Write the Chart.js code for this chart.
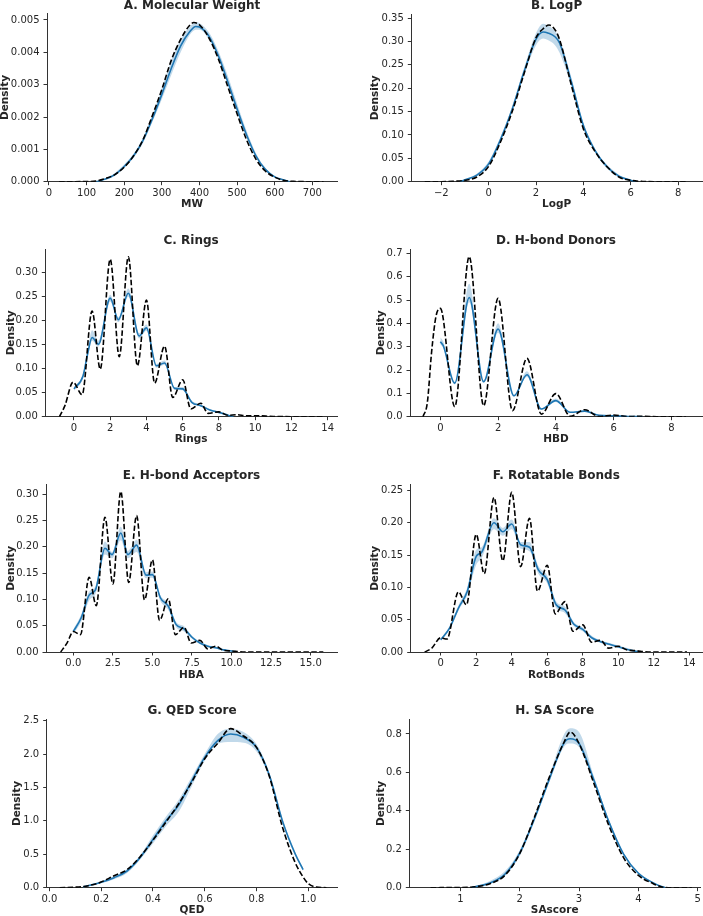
<!DOCTYPE html>
<html>
<head>
<meta charset="utf-8">
<script src="https://cdn.jsdelivr.net/npm/chart.js@4.4.1/dist/chart.umd.min.js"></script>
<style>
   body { margin: 0; background: #fff; }
   #fig { position: relative; width: 703px; height: 916px; }
   #fig canvas { position: absolute; }
</style>
</head>
<body>
<div id="fig"></div>
<script>
// DATA: ref = dashed black [x, density], gen = blue [x, density, bandLow, bandHigh]

// A. Molecular Weight
const refMW = [[27,0],[100,0.000002],[125,0.00002],[150,0.0001],[175,0.00022],[200,0.00045],[225,0.0008],[250,0.0013],[275,0.00205],[300,0.00285],[325,0.00375],[350,0.0044],[375,0.00485],[385,0.00492],[400,0.00485],[425,0.00445],[450,0.0038],[475,0.00295],[500,0.0021],[525,0.0013],[550,0.0007],[575,0.00033],[600,0.00014],[625,0.00004],[650,0.00001],[700,0],[730,0]];
const genMW = [[125,0,0,0],[150,0.00008,0.00006,0.0001],[175,0.00022,0.00018,0.00027],[200,0.00047,0.00042,0.00053],[225,0.0008,0.00074,0.00087],[250,0.00128,0.0012,0.00137],[275,0.00195,0.00185,0.00207],[300,0.0027,0.00255,0.0029],[325,0.0035,0.0033,0.00375],[350,0.0042,0.004,0.0044],[375,0.00465,0.00455,0.0048],[390,0.0048,0.0047,0.00492],[400,0.00478,0.0047,0.0049],[425,0.0045,0.0044,0.00462],[450,0.0039,0.0038,0.00405],[475,0.0031,0.003,0.00328],[500,0.00225,0.00215,0.00242],[525,0.00145,0.00138,0.00158],[550,0.0008,0.00076,0.00088],[575,0.00038,0.00035,0.00043],[600,0.00015,0.00013,0.00018],[625,0.00005,0.00004,0.00006],[640,0,0,0]];

// B. LogP
const refLogP = [[-2.7,0],[-2,0],[-1.5,0.001],[-1,0.003],[-0.5,0.01],[0,0.033],[0.5,0.085],[1,0.151],[1.5,0.232],[2,0.308],[2.3,0.327],[2.55,0.335],[2.8,0.325],[3,0.303],[3.5,0.205],[4,0.113],[4.5,0.064],[5,0.032],[5.5,0.01],[6,0.003],[6.5,0.0005],[7,0],[8.4,0]];
const genLogP = [[-1.2,0,0,0],[-1,0.004,0.003,0.005],[-0.5,0.014,0.011,0.017],[0,0.038,0.033,0.043],[0.5,0.09,0.084,0.096],[1,0.156,0.15,0.162],[1.5,0.236,0.228,0.244],[2,0.305,0.292,0.318],[2.3,0.32,0.306,0.338],[2.5,0.318,0.303,0.334],[2.8,0.31,0.292,0.322],[3,0.296,0.275,0.305],[3.5,0.212,0.203,0.222],[4,0.12,0.114,0.126],[4.5,0.066,0.062,0.07],[5,0.032,0.028,0.036],[5.5,0.012,0.009,0.015],[6,0.003,0.002,0.004],[6.2,0,0,0]];

// C. Rings
const refRings = [[-0.8,0],[-0.5,0.023],[-0.05,0.072],[0.45,0.046],[1,0.22],[1.45,0.099],[2,0.328],[2.5,0.125],[3,0.333],[3.5,0.106],[4,0.243],[4.45,0.07],[5,0.147],[5.45,0.04],[6,0.077],[6.45,0.016],[7,0.028],[7.4,0.007],[8,0.01],[8.5,0.003],[9,0.004],[9.5,0.002],[10,0.002],[11,0.0005],[12,0],[13.85,0]];
const genRings = [[0,0.058,0.054,0.062],[0.5,0.085,0.08,0.09],[0.75,0.13,0.124,0.138],[1,0.165,0.158,0.18],[1.35,0.151,0.146,0.158],[2,0.247,0.24,0.254],[2.45,0.202,0.197,0.207],[3,0.257,0.25,0.267],[3.6,0.168,0.163,0.174],[4,0.185,0.179,0.192],[4.55,0.106,0.102,0.11],[5,0.112,0.108,0.117],[5.55,0.059,0.056,0.062],[6,0.058,0.055,0.062],[6.5,0.03,0.028,0.033],[7,0.023,0.021,0.026],[7.5,0.014,0.012,0.016],[8,0.009,0.007,0.011],[8.5,0.003,0.002,0.005],[8.8,0,0,0]];

// D. H-bond Donors
const refHBD = [[-0.6,0],[-0.45,0.06],[-0.3,0.28],[-0.15,0.43],[0,0.464],[0.5,0.043],[1,0.686],[1.5,0.047],[2,0.507],[2.5,0.026],[3,0.25],[3.5,0.011],[4,0.099],[4.5,0.002],[5,0.03],[5.5,0.001],[6,0.007],[6.5,0.001],[7,0.0015],[7.5,0],[8.5,0]];
const genHBD = [[0,0.321,0.31,0.34],[0.1,0.305,0.295,0.322],[0.5,0.144,0.138,0.15],[1,0.511,0.49,0.57],[1.5,0.15,0.145,0.156],[2,0.376,0.36,0.4],[2.55,0.09,0.086,0.094],[3,0.18,0.17,0.195],[3.5,0.033,0.03,0.036],[4,0.069,0.063,0.078],[4.5,0.019,0.017,0.021],[5,0.024,0.021,0.028],[5.5,0.006,0.005,0.008],[6,0.004,0.003,0.006],[6.5,0.001,0.001,0.002],[7,0,0,0]];

// E. H-bond Acceptors
const refHBA = [[-0.8,0],[-0.4,0.017],[0,0.039],[0.45,0.033],[1,0.142],[1.45,0.088],[2,0.256],[2.5,0.129],[3,0.305],[3.5,0.132],[4,0.259],[4.5,0.099],[5,0.175],[5.45,0.06],[6,0.101],[6.45,0.033],[7,0.047],[7.45,0.017],[8,0.022],[8.5,0.006],[9,0.011],[9.5,0.003],[10,0.002],[10.5,0.0005],[11,0],[15.8,0]];
const genHBA = [[0,0.039,0.034,0.043],[0.5,0.065,0.058,0.071],[1,0.108,0.098,0.115],[1.4,0.118,0.11,0.125],[2,0.197,0.185,0.21],[2.45,0.185,0.178,0.19],[3,0.226,0.212,0.238],[3.45,0.185,0.178,0.192],[4,0.203,0.19,0.213],[4.6,0.146,0.14,0.152],[5,0.147,0.141,0.153],[5.5,0.103,0.097,0.108],[6,0.087,0.08,0.093],[6.5,0.052,0.047,0.057],[7,0.044,0.039,0.049],[7.5,0.028,0.025,0.031],[8,0.017,0.015,0.02],[8.5,0.011,0.009,0.013],[9,0.008,0.006,0.01],[9.5,0.004,0.003,0.005],[10,0.002,0.001,0.003],[10.3,0,0,0]];

// F. Rotatable Bonds
const refRot = [[-0.9,0],[-0.5,0.006],[0,0.022],[0.35,0.02],[1,0.093],[1.45,0.073],[2,0.182],[2.45,0.121],[3,0.239],[3.5,0.141],[4,0.247],[4.5,0.132],[5,0.207],[5.45,0.094],[6,0.134],[6.45,0.059],[7,0.078],[7.45,0.032],[8,0.042],[8.5,0.015],[9,0.018],[9.45,0.006],[10,0.009],[10.5,0.003],[11,0.002],[11.5,0.0005],[12,0],[13.87,0]];
const genRot = [[0,0.019,0.017,0.021],[0.5,0.037,0.034,0.04],[1,0.068,0.064,0.072],[1.5,0.094,0.088,0.1],[2,0.148,0.135,0.158],[2.3,0.154,0.145,0.162],[3,0.2,0.19,0.207],[3.5,0.186,0.18,0.192],[4,0.198,0.19,0.205],[4.5,0.166,0.16,0.17],[5,0.162,0.156,0.17],[5.5,0.127,0.121,0.133],[6,0.112,0.106,0.118],[6.5,0.073,0.068,0.078],[7,0.065,0.06,0.07],[7.5,0.043,0.04,0.046],[8,0.035,0.032,0.038],[8.5,0.022,0.02,0.025],[9,0.016,0.014,0.018],[9.5,0.012,0.01,0.014],[10,0.008,0.006,0.01],[10.5,0.004,0.003,0.006],[11,0.001,0.001,0.002],[11.2,0,0,0]];

// G. QED Score
const refQED = [[0.04,0],[0.1,0.008],[0.15,0.03],[0.2,0.085],[0.25,0.18],[0.3,0.27],[0.35,0.46],[0.4,0.71],[0.45,0.98],[0.5,1.26],[0.55,1.58],[0.6,1.93],[0.65,2.16],[0.7,2.38],[0.75,2.27],[0.8,2.1],[0.85,1.66],[0.9,0.91],[0.95,0.37],[0.98,0.16],[1.0,0.06],[1.03,0.01],[1.07,0]];
const genQED = [[0.13,0.01,0.005,0.015],[0.2,0.08,0.065,0.095],[0.25,0.15,0.125,0.175],[0.3,0.25,0.22,0.28],[0.35,0.45,0.42,0.48],[0.4,0.72,0.66,0.78],[0.45,1.0,0.92,1.06],[0.5,1.24,1.14,1.32],[0.55,1.6,1.52,1.66],[0.6,1.95,1.9,2.0],[0.65,2.2,2.15,2.3],[0.7,2.3,2.18,2.38],[0.75,2.25,2.17,2.33],[0.8,2.1,2.04,2.15],[0.85,1.68,1.64,1.72],[0.9,1.0,0.96,1.04],[0.95,0.5,0.47,0.53],[0.98,0.27,0.25,0.29]];

// H. SA Score
const refSA = [[0.5,0],[1,0.001],[1.25,0.005],[1.5,0.021],[1.75,0.064],[2,0.177],[2.25,0.368],[2.5,0.576],[2.75,0.759],[2.85,0.81],[3,0.75],[3.25,0.542],[3.5,0.325],[3.75,0.156],[4,0.064],[4.25,0.021],[4.4,0.003],[4.5,0],[4.9,0]];
const genSA = [[1.2,0.002,0.001,0.003],[1.5,0.025,0.02,0.035],[1.75,0.07,0.06,0.085],[2,0.18,0.165,0.195],[2.25,0.36,0.345,0.375],[2.5,0.565,0.55,0.585],[2.75,0.755,0.735,0.8],[2.85,0.775,0.75,0.83],[3,0.75,0.73,0.81],[3.25,0.56,0.545,0.58],[3.5,0.345,0.335,0.355],[3.75,0.175,0.168,0.182],[4,0.075,0.07,0.08],[4.25,0.025,0.022,0.028],[4.35,0.01,0.008,0.012],[4.45,0,0,0]];

// TICKS
const xTicksMW = [0,100,200,300,400,500,600,700];
const yTicksMW = [0,0.001,0.002,0.003,0.004,0.005];
const xTicksLogP = [-2,0,2,4,6,8];
const yTicksLogP = [0,0.05,0.1,0.15,0.2,0.25,0.3,0.35];
const xTicksRings = [0,2,4,6,8,10,12,14];
const yTicksRings = [0,0.05,0.1,0.15,0.2,0.25,0.3];
const xTicksHBD = [0,2,4,6,8];
const yTicksHBD = [0,0.1,0.2,0.3,0.4,0.5,0.6,0.7];
const xTicksHBA = [0,2.5,5,7.5,10,12.5,15];
const yTicksHBA = [0,0.05,0.1,0.15,0.2,0.25,0.3];
const xTicksRot = [0,2,4,6,8,10,12,14];
const yTicksRot = [0,0.05,0.1,0.15,0.2,0.25];
const xTicksQED = [0,0.2,0.4,0.6,0.8,1.0];
const yTicksQED = [0,0.5,1,1.5,2,2.5];
const xTicksSA = [1,2,3,4,5];
const yTicksSA = [0,0.2,0.4,0.6,0.8];

const BLUE = "#1f77b4";
const BAND = "rgba(31, 119, 180, 0.28)";
const INK = "#262626";

Chart.defaults.font.family = "'DejaVu Sans', sans-serif";
Chart.defaults.color = INK;
Chart.defaults.animation = false;

// panel layout: cell = canvas box, area = plot box (page px)
const panels = [
   { title: "A. Molecular Weight", xLabel: "MW", ref: refMW, gen: genMW, xTicks: xTicksMW, yTicks: yTicksMW, xDec: 0, yDec: 3,
     xRange: [-5.3, 765.6], yMax: 0.005206, cell: [0, 0, 352, 229], area: [47, 13.3, 337, 181.7], tTop: 0, xPad: 19.75, yPad: 0.25 },
   { title: "B. LogP", xLabel: "LogP", ref: refLogP, gen: genLogP, xTicks: xTicksLogP, yTicks: yTicksLogP, xDec: 0, yDec: 2,
     xRange: [-3.268, 9.01], yMax: 0.3586, cell: [352, 0, 351, 229], area: [411.3, 14, 702, 181.7], tTop: 0, xPad: 19.75, yPad: 18 },
   { title: "C. Rings", xLabel: "Rings", ref: refRings, gen: genRings, xTicks: xTicksRings, yTicks: yTicksRings, xDec: 0, yDec: 2,
     xRange: [-1.582, 14.515], yMax: 0.3493, cell: [0, 229, 352, 229], area: [45.3, 249, 337, 416.7], tTop: 5.7, xPad: 13, yPad: 5.75 },
   { title: "D. H-bond Donors", xLabel: "HBD", ref: refHBD, gen: genHBD, xTicks: xTicksHBD, yTicks: yTicksHBD, xDec: 0, yDec: 1,
     xRange: [-1.05, 9.062], yMax: 0.7186, cell: [352, 229, 351, 229], area: [410, 249, 702, 416.7], tTop: 5.7, xPad: 13, yPad: 24.4 },
   { title: "E. H-bond Acceptors", xLabel: "HBA", ref: refHBA, gen: genHBA, xTicks: xTicksHBA, yTicks: yTicksHBA, xDec: 1, yDec: 2,
     xRange: [-1.727, 16.665], yMax: 0.3177, cell: [0, 458, 352, 229], area: [46, 484.7, 337, 652], tTop: 12.3, xPad: 6.75, yPad: 6 },
   { title: "F. Rotatable Bonds", xLabel: "RotBonds", ref: refRot, gen: genRot, xTicks: xTicksRot, yTicks: yTicksRot, xDec: 0, yDec: 2,
     xRange: [-1.689, 14.713], yMax: 0.2588, cell: [352, 458, 351, 229], area: [410.7, 484.7, 702, 652], tTop: 12.3, xPad: 6.75, yPad: 17.75 },
   { title: "G. QED Score", xLabel: "QED", ref: refQED, gen: genQED, xTicks: xTicksQED, yTicks: yTicksQED, xDec: 1, yDec: 1,
     xRange: [-0.0103, 1.112], yMax: 2.52, cell: [0, 687, 352, 229], area: [46.7, 719.3, 337.3, 887.7], tTop: 18.3, xPad: 0, yPad: 11.75 },
   { title: "H. SA Score", xLabel: "SAscore", ref: refSA, gen: genSA, xTicks: xTicksSA, yTicks: yTicksSA, xDec: 0, yDec: 1,
     xRange: [0.1408, 5.039], yMax: 0.876, cell: [352, 687, 351, 229], area: [409.3, 719.3, 702, 887.7], tTop: 18.3, xPad: 0, yPad: 24.4 },
];

function fmt(dec) {
   return (v) => Number(v).toFixed(dec).replace("-", "\u2212");
}

function axisStyle() {
   return {
      grid: { display: true, drawOnChartArea: false, drawTicks: true, tickLength: 3.5, tickColor: "#333", tickWidth: 1 },
      border: { display: true, color: "#333", width: 1 },
   };
}

function makePanel(p) {
   const [cx, cy, cw, ch] = p.cell;
   const [al, at, ar, ab] = p.area;

   const cv = document.createElement("canvas");
   cv.width = cw;
   cv.height = ch;
   cv.style.left = cx + "px";
   cv.style.top = cy + "px";
   document.getElementById("fig").appendChild(cv);

   const line = { pointRadius: 0, cubicInterpolationMode: "monotone" };

   new Chart(cv, {
      type: "line",
      data: {
         datasets: [
            { ...line, data: p.ref.map((d) => ({ x: d[0], y: d[1] })), borderColor: "#000", borderWidth: 1.6, borderDash: [5.5, 2.4], fill: false },
            { ...line, data: p.gen.map((d) => ({ x: d[0], y: d[1] })), borderColor: BLUE, borderWidth: 1.6, fill: false },
            { ...line, data: p.gen.map((d) => ({ x: d[0], y: d[3] })), borderColor: "rgba(0,0,0,0)", borderWidth: 0, backgroundColor: BAND, fill: "+1" },
            { ...line, data: p.gen.map((d) => ({ x: d[0], y: d[2] })), borderColor: "rgba(0,0,0,0)", borderWidth: 0, fill: false },
         ],
      },
      options: {
         responsive: false,
         devicePixelRatio: 1,
         events: [],
         layout: { padding: { left: 0, top: 0, right: cx + cw - ar, bottom: 0 } },
         plugins: {
            legend: { display: false },
            tooltip: { enabled: false },
            title: {
               display: true,
               text: p.title,
               fullSize: false,
               color: INK,
               font: { size: 12, weight: "bold", lineHeight: 1 },
               padding: { top: p.tTop, bottom: at - cy - p.tTop - 12 },
            },
         },
         scales: {
            x: {
               type: "linear",
               min: p.xRange[0],
               max: p.xRange[1],
               afterFit: (s) => { s.height = cy + ch - ab; },
               afterBuildTicks: (s) => { s.ticks = p.xTicks.map((v) => ({ value: v })); },
               ticks: { callback: fmt(p.xDec), font: { size: 10 }, color: INK, padding: 2, maxRotation: 0, autoSkip: false },
               title: { display: true, text: p.xLabel, color: INK, font: { size: 10.5, weight: "bold", lineHeight: 1 }, padding: { top: 0, bottom: p.xPad } },
               ...axisStyle(),
            },
            y: {
               type: "linear",
               min: 0,
               max: p.yMax,
               afterFit: (s) => { s.width = al - cx; },
               afterBuildTicks: (s) => { s.ticks = p.yTicks.map((v) => ({ value: v })); },
               ticks: { callback: fmt(p.yDec), font: { size: 10 }, color: INK, padding: 4 },
               title: { display: true, text: "Density", color: INK, font: { size: 10.5, weight: "bold", lineHeight: 1 }, padding: { top: p.yPad, bottom: 0 } },
               ...axisStyle(),
            },
         },
      },
   });
}

panels.forEach(makePanel);
</script>
</body>
</html>
